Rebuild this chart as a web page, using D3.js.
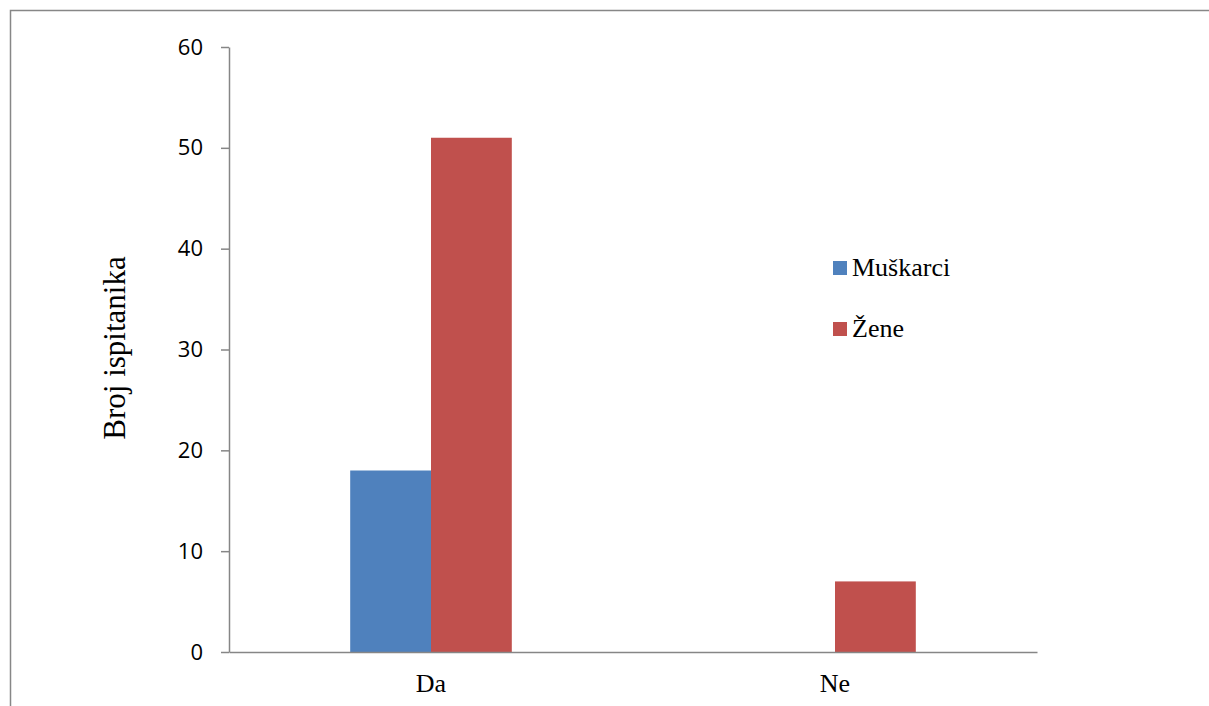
<!DOCTYPE html>
<html>
<head>
<meta charset="utf-8">
<script src="https://cdn.jsdelivr.net/npm/d3@7"></script>
<style>
  body { margin: 0; background: #fff; }
  svg { display: block; }
</style>
</head>
<body>
<svg width="1209" height="706"></svg>
<script>
const categories = ["Da", "Ne"];
const seriesNames = ["Muškarci", "Žene"];
const muskarci = [18, 0];
const zene = [51, 7];
const yTicks = [0, 10, 20, 30, 40, 50, 60];
const colors = ["#4F81BD", "#C0504D"];

const serif = "'Liberation Serif', 'Times New Roman', serif";

const svg = d3.select("svg");

// outer frame (only top and left edges visible)
svg.append("path")
    .attr("d", "M10.5,706 V10.5 H1209")
    .attr("fill", "none")
    .attr("stroke", "#878787")
    .attr("stroke-width", 1.5);

const plotLeft = 229, plotRight = 1037, plotTop = 47, plotBottom = 652;

const x = d3.scaleBand()
    .domain(categories)
    .range([plotLeft, plotRight]);

const x1 = d3.scaleBand()
    .domain(seriesNames)
    .range([x.bandwidth() * 0.3, x.bandwidth() * 0.7]);

const y = d3.scaleLinear()
    .domain([0, 60])
    .range([plotBottom, plotTop]);

const values = [muskarci, zene];

const groups = svg.append("g")
    .selectAll("g")
    .data(categories)
    .join("g")
    .attr("transform", d => `translate(${x(d)},0)`);

groups.selectAll("rect")
    .data((c, ci) => seriesNames.map((s, si) => ({ s, si, v: values[si][ci] })))
    .join("rect")
    .attr("x", d => x1(d.s))
    .attr("width", x1.bandwidth())
    .attr("y", d => y(d.v))
    .attr("height", d => y(0) - y(d.v))
    .attr("fill", d => colors[d.si]);

// y axis
const yAxis = svg.append("g")
    .attr("transform", `translate(${plotLeft},0)`)
    .call(d3.axisLeft(y).tickValues(yTicks).tickSize(8).tickPadding(18).tickSizeOuter(0));
yAxis.select(".domain").attr("stroke", "#868686").attr("stroke-width", 1.5);
yAxis.selectAll(".tick line").attr("stroke", "#868686").attr("stroke-width", 1.5);
yAxis.selectAll(".tick text")
    .attr("fill", "#000")
    .style("font-family", "'Open Sans', 'Liberation Sans', sans-serif")
    .style("font-size", "22px");

// x axis
const xAxis = svg.append("g")
    .attr("transform", `translate(0,${plotBottom})`)
    .call(d3.axisBottom(x).tickSize(0).tickPadding(22).tickSizeOuter(0));
xAxis.select(".domain").attr("stroke", "#868686").attr("stroke-width", 1.5);
xAxis.selectAll(".tick text")
    .attr("fill", "#000")
    .style("font-family", serif)
    .style("font-size", "26px");

// y title
svg.append("text")
    .attr("transform", "translate(125,348) rotate(-90)")
    .attr("text-anchor", "middle")
    .style("font-family", serif)
    .style("font-size", "31px")
    .text("Broj ispitanika");

// legend
const legend = svg.append("g")
    .selectAll("g")
    .data(seriesNames)
    .join("g")
    .attr("transform", (d, i) => `translate(833,${261 + i * 61})`);

legend.append("rect")
    .attr("width", 14)
    .attr("height", 14)
    .attr("fill", (d, i) => colors[i]);

legend.append("text")
    .attr("x", 19)
    .attr("y", 15)
    .style("font-family", serif)
    .style("font-size", "26px")
    .text(d => d);
</script>
</body>
</html>
